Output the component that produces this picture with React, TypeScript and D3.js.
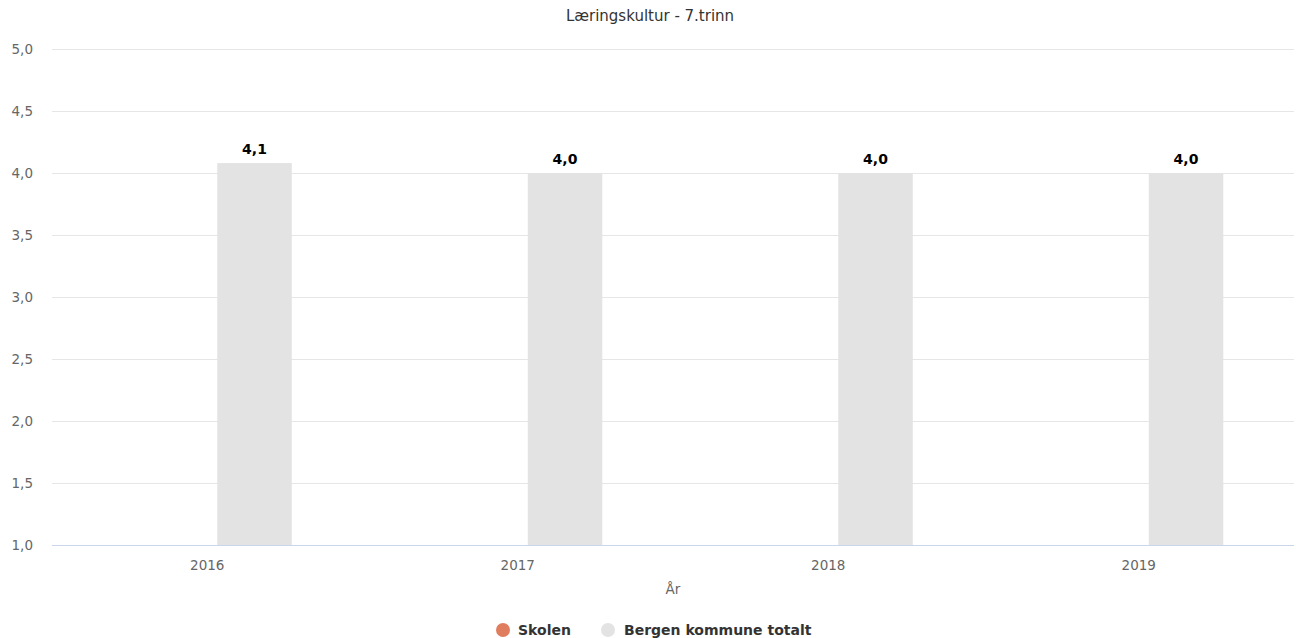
import React from "react";
import * as d3 from "d3";

const title = "Læringskultur - 7.trinn";
const categories = ["2016", "2017", "2018", "2019"];
const skolenValues: (number | null)[] = [null, null, null, null];
const bergenValues: number[] = [4.08, 4.0, 4.0, 4.0];
const bergenLabels = ["4,1", "4,0", "4,0", "4,0"];
const yTicks = [1.0, 1.5, 2.0, 2.5, 3.0, 3.5, 4.0, 4.5, 5.0];
const seriesNames = ["Skolen", "Bergen kommune totalt"];
const seriesColors = ["#e07d5f", "#e3e3e3"];
const xTitle = "År";

const W = 1296;
const H = 638;
const FONT = "'DejaVu Sans', Verdana, sans-serif";

export default function App() {
  const left = 52, right = 1294, top = 49, bottom = 545;
  const y = d3.scaleLinear().domain([1, 5]).range([bottom, top]);
  const x = d3.scaleBand().domain(categories).range([left, right]).paddingInner(0).paddingOuter(0);
  const groupPad = 0.2, pointPad = 0.1;
  const fmt = (v: number) => v.toFixed(1).replace(".", ",");
  const bw = x.bandwidth();
  const groupW = bw * (1 - 2 * groupPad);
  const slotW = groupW / 2;
  const barW = slotW * (1 - 2 * pointPad);

  const barX = (cat: string, si: number) => (x(cat) as number) + bw * groupPad + slotW * si + slotW * pointPad + 0.7;

  return (
    <svg width={W} height={H} style={{ display: "block", position: "absolute", left: 0, top: 0 }}>
      <rect x={0} y={0} width={W} height={H} fill="#ffffff" />
      <text x={650} y={21} textAnchor="middle" fontFamily={FONT} fontSize={15} fill="#333333">{title}</text>
      {yTicks.map((t) => (
        <g key={t}>
          {t > 1 && <line x1={left} x2={right} y1={Math.round(y(t)) + 0.5} y2={Math.round(y(t)) + 0.5} stroke="#e6e6e6" strokeWidth={1} />}
          <text x={33} y={y(t) + 5} textAnchor="end" fontFamily={FONT} fontSize={13.5} fill="#666666">{fmt(t)}</text>
        </g>
      ))}
      {categories.map((c, i) => {
        const v = bergenValues[i];
        const bx = barX(c, 1);
        return (
          <g key={c}>
            <rect x={bx} y={y(v)} width={barW} height={y(1) - y(v)} fill={seriesColors[1]} />
            <text x={bx + barW / 2} y={y(v) - 9} textAnchor="middle" fontFamily={FONT} fontSize={14} fontWeight="bold" fill="#000000">{bergenLabels[i]}</text>
            {skolenValues[i] != null && (
              <rect x={barX(c, 0)} y={y(skolenValues[i] as number)} width={barW} height={y(1) - y(skolenValues[i] as number)} fill={seriesColors[0]} />
            )}
            <text x={(x(c) as number) + bw / 2} y={570} textAnchor="middle" fontFamily={FONT} fontSize={13.5} fill="#666666">{c}</text>
          </g>
        );
      })}
      <line x1={left} x2={right} y1={bottom + 0.5} y2={bottom + 0.5} stroke="#ccd6eb" strokeWidth={1} />
      <text x={673} y={594} textAnchor="middle" fontFamily={FONT} fontSize={13.5} fill="#666666">{xTitle}</text>
      <g>
        <circle cx={503} cy={630} r={7} fill={seriesColors[0]} />
        <text x={518} y={635} fontFamily={FONT} fontSize={14} fontWeight="bold" fill="#333333">{seriesNames[0]}</text>
        <circle cx={608} cy={630} r={7} fill={seriesColors[1]} />
        <text x={624} y={635} fontFamily={FONT} fontSize={14} fontWeight="bold" fill="#333333">{seriesNames[1]}</text>
      </g>
    </svg>
  );
}
